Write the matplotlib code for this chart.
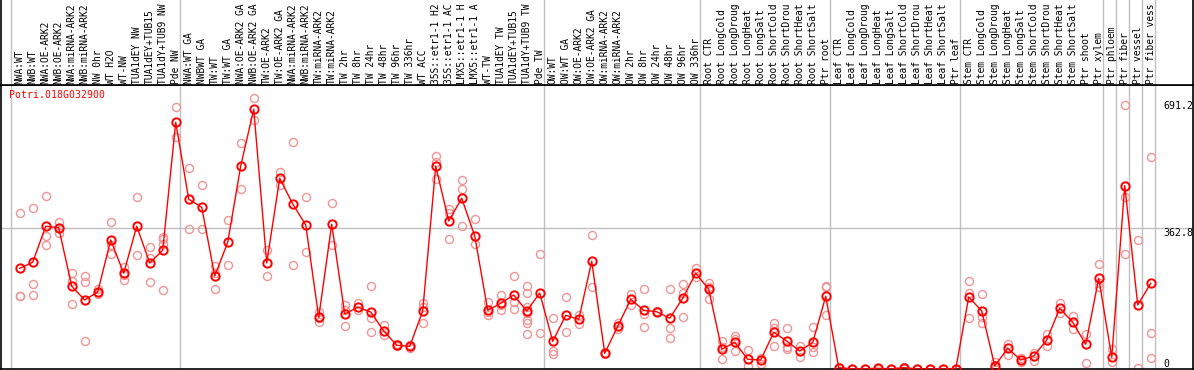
import matplotlib
matplotlib.use("Agg")
import matplotlib.pyplot as plt
import matplotlib.transforms as mtransforms

gene = "Potri.018G032900"

# sample labels as they show in the header (long names are cut there)
samples = [
    "NWA:WT", "NWB:WT", "NWA:OE-ARK2", "NWB:OE-ARK2", "NWA:miRNA-ARK2",
    "NWB:miRNA-ARK2", "NW 0hr", "WT H2O", "WT-NW", "TUA1dEY NW",
    "TUA1dEY+TUB15", "TUA1dY+TUB9 NW", "Pde NW",
    "NWA:WT GA", "NWBWT GA", "TW:WT", "TW:WT GA", "NWA:OE-ARK2 GA",
    "NWB:OE-ARK2 GA", "TW:OE-ARK2", "TW:OE-ARK2 GA", "NWA:miRNA-ARK2",
    "NWB:miRNA-ARK2", "TW:miRNA-ARK2", "TW:miRNA-ARK2", "TW 2hr",
    "TW 8hr", "TW 24hr", "TW 48hr", "TW 96hr", "TW 336hr", "WT ACC",
    "35S::etr1-1 H2", "35S::etr1-1 AC", "LMX5::etr1-1 H",
    "LMX5::etr1-1 A", "WT-TW", "TUA1dEY TW", "TUA1dEY+TUB15",
    "TUA1dY+TUB9 TW", "Pde TW",
    "OW:WT", "OW:WT GA", "OW:OE-ARK2", "OW:OE-ARK2 GA", "OW:miRNA-ARK2",
    "OW:miRNA-ARK2", "OW 2hr", "OW 8hr", "OW 24hr", "OW 48hr", "OW 96hr",
    "OW 336hr",
    "Root CTR", "Root LongCold", "Root LongDroug", "Root LongHeat",
    "Root LongSalt", "Root ShortCold", "Root ShortDrou", "Root ShortHeat",
    "Root ShortSalt", "Ptr root",
    "Leaf CTR", "Leaf LongCold", "Leaf LongDroug", "Leaf LongHeat",
    "Leaf LongSalt", "Leaf ShortCold", "Leaf ShortDrou", "Leaf ShortHeat",
    "Leaf ShortSalt", "Ptr leaf",
    "Stem CTR", "Stem LongCold", "Stem LongDroug", "Stem LongHeat",
    "Stem LongSalt", "Stem ShortCold", "Stem ShortDrou", "Stem ShortHeat",
    "Stem ShortSalt", "Ptr shoot", "Ptr xylem",
    "Ptr phloem", "Ptr fiber", "Ptr vessel", "Ptr fiber vess",
]

group_sizes = [13, 28, 12, 10, 10, 11, 1, 1, 1, 1]

means = [
    259.6, 275.1, 367.9, 364.3, 213.2, 177.9, 198.5, 332.6, 246.7, 367.9,
    273.3, 306.0, 636.0,
    437.5, 416.9, 239.8, 326.6, 523.3, 669.5, 273.3, 491.6, 425.4, 371.2,
    133.3, 373.0, 141.8, 159.1, 146.9, 98.0, 61.1, 58.5, 149.5, 522.6,
    381.5, 440.0, 342.9, 151.3, 169.4, 190.8, 149.5, 195.9,
    71.4, 138.4, 128.1, 277.7, 40.5, 110.1, 179.7, 151.3, 147.7, 130.7,
    182.3, 246.7,
    205.5, 50.8, 68.8, 25.0, 23.2, 94.6, 72.2, 46.4, 68.8, 187.4,
    3.4, 0.5, 0.5, 1.7, 0.3, 3.4, 0.3, 0.3, 0.3, 0.3,
    185.6, 149.5, 7.7, 53.4, 23.2, 33.5, 74.8, 156.5, 120.4, 63.7, 233.8,
    30.2, 472.6, 165.0, 220.9,
]

replicates = [
    [401.4, 188.2, 189.0], [415.1, 219.1, 190.8], [445.2, 342.9, 319.7],
    [379.0, 349.8, 364.0], [247.5, 227.6, 167.6], [239.8, 223.5, 72.2],
    [205.5, 198.5, 193.4], [378.2, 318.9, 297.2], [263.7, 242.3, 229.4],
    [443.4, 293.1], [314.5, 286.9, 223.5], [341.0, 334.4, 322.3, 203.7],
    [674.7, 598.1],
    [517.4, 360.1], [473.6, 360.1], [265.5, 246.7, 205.5], [384.1, 267.3],
    [581.9, 464.0], [697.9, 641.9], [306.8, 239.0], [508.6, 474.4],
    [585.2, 268.1], [442.6, 300.8], [147.7, 130.7, 120.4], [427.2, 318.9],
    [165.0, 152.1, 110.1], [169.4, 152.1], [214.0, 130.7, 94.6],
    [113.4, 87.7], [61.1, 64.5, 59.3], [61.9, 54.9], [169.4, 160.6, 117.8],
    [549.1, 534.4, 489.0], [411.7, 402.9, 334.4], [487.2, 463.3, 368.7],
    [385.9, 322.3], [173.5, 147.7, 139.2], [190.8, 165.0, 152.1],
    [239.8, 173.5, 153.9],
    [214.0, 196.7, 160.6, 143.6, 126.3, 117.8, 89.5], [295.7, 92.0],
    [130.7, 46.4, 37.9], [184.8, 94.6], [139.2, 115.2], [344.7, 210.6],
    [42.0, 37.9], [119.4, 102.3], [193.4, 165.0], [205.5, 141.8, 107.5],
    [147.7, 149.5], [205.5, 104.9, 79.1], [219.1, 195.2, 134.8],
    [261.2, 238.0],
    [220.9, 210.6, 181.2], [73.0, 57.5, 25.0], [85.1, 76.6, 45.6],
    [49.0, 7.7], [27.6, 12.9], [117.8, 104.9, 60.1], [104.9, 57.5, 50.8],
    [60.1, 30.2], [107.5, 57.5, 43.1], [214.7, 210.6, 138.4],
    [4.0, 3.0], [0.8, 0.3], [0.8, 0.3], [2.5, 1.0], [0.5, 0.2], [4.5, 2.5],
    [0.5, 0.2], [0.5, 0.2], [0.5, 0.2], [0.5, 0.2],
    [226.1, 196.7, 132.3], [193.4, 134.8, 117.8], [18.8, 10.3],
    [64.5, 36.1], [29.1, 18.8], [42.0, 20.6], [89.5, 59.3], [170.9, 145.1],
    [136.6, 102.3], [90.2, 14.7], [270.7, 220.9, 212.2],
    [50.8, 18.8], [680.6, 444.2, 295.7], [331.8, 1.8], [545.8, 92.0, 27.6],
]

y_ticks = [0, 362.8, 691.2]

W, H = 1194, 370
fig = plt.figure(figsize=(W / 100, H / 100), dpi=100)
ax = fig.add_axes([1 / W, 1 / H, 1192 / W, 284 / H])
hdr = fig.add_axes([1 / W, 285 / H, 1192 / W, 85 / H], sharex=ax)

x = list(range(len(samples)))
ax.set_xlim(-1.44, 90.25)
ax.set_ylim(0, 732)

pink = "#f09595"
for i, reps in enumerate(replicates):
    ax.plot([i] * len(reps), reps, "o", ms=5.8, mfc="none", mec=pink, mew=1.0,
            zorder=2, clip_on=False)
ax.plot(x, means, "-", color="red", lw=1.0, zorder=3)
ax.plot(x, means, "o", ms=6.0, mfc="none", mec="red", mew=1.4, zorder=4,
        clip_on=False)

# group separators
bounds = [-0.65]
pos = -1
for n in group_sizes:
    pos += n
    bounds.append(pos + 0.35)
for b in bounds:
    ax.axvline(b, color="#c0c0c0", lw=1, zorder=1)
    hdr.axvline(b, color="#c0c0c0", lw=1, zorder=1)
ax.axhline(y_ticks[1], color="#c0c0c0", lw=1, zorder=1)

mono = "DejaVu Sans Mono"
for i, name in enumerate(samples):
    hdr.text(i, 0.015, name, rotation=90, ha="center", va="bottom",
             fontsize=6.9, family=mono)
hdr.set_ylim(0, 1)

ax.text(8 / 1192, 1 - 10.5 / 284, gene, transform=ax.transAxes, color="red",
        fontsize=7.1, family=mono, ha="left", va="center")

lbl = mtransforms.blended_transform_factory(ax.transAxes, ax.transData)
for v in y_ticks:
    txt = "0" if v == 0 else f"{v:.1f}"
    ax.text(1162 / 1192, v, txt, transform=lbl, fontsize=7.1, family=mono,
            ha="left", va="bottom" if v == 0 else "top")

for a in (ax, hdr):
    a.set_xticks([])
    a.set_yticks([])
    for s in a.spines.values():
        s.set_color("black")
        s.set_linewidth(1.2)
hdr.spines["top"].set_visible(False)

fig.savefig("out.png", dpi=100)
